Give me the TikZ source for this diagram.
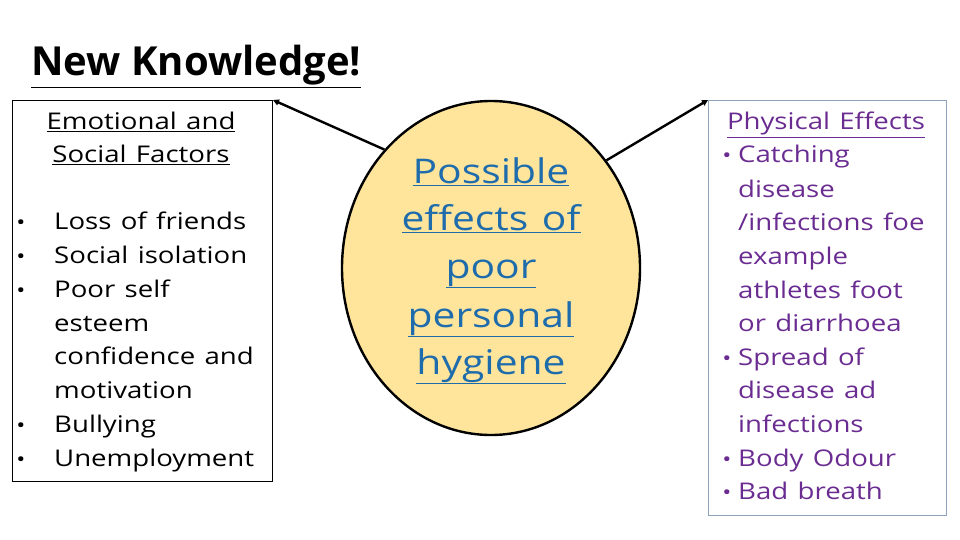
\documentclass[tikz,border=0pt]{standalone}
\usepackage{fontspec}
\setmainfont{Open Sans}[FakeStretch=1.2, WordSpace=1.3]
\newfontfamily\titlefont{Open Sans}
\usetikzlibrary{shapes.geometric,arrows.meta}
\definecolor{hygblue}{HTML}{1F6CAD}
\definecolor{hygpurple}{HTML}{6A2C91}
\definecolor{hygyellow}{HTML}{FEE59B}
\definecolor{boxgray}{HTML}{8EA2BA}
\tikzset{
  ltext/.style={anchor=base west, inner sep=0pt, font=\fontsize{23}{26}\selectfont},
  lhead/.style={anchor=base, inner sep=0pt, font=\fontsize{23}{26}\selectfont},
  rtext/.style={ltext, text=hygpurple},
  rhead/.style={lhead, text=hygpurple},
  bul/.style={anchor=base, inner sep=0pt, font=\fontsize{20}{26}\selectfont},
  ctext/.style={anchor=base, inner sep=0pt, font=\fontsize{34}{36}\selectfont, text=hygblue},
  conn/.style={line width=2.4pt, -{Triangle[length=6pt,width=6pt]}},
}
\begin{document}
\begin{tikzpicture}[x=1pt,y=-1pt]
\useasboundingbox (0,0) rectangle (960,540);
% title
\node[anchor=base west, inner sep=0pt, font=\titlefont\fontsize{40}{44}\selectfont\bfseries] (title) at (31,76) {\underline{New Knowledge!}};
% left box
\node[draw=black, line width=1pt, anchor=north west, minimum width=260pt, minimum height=381pt, inner sep=0pt] (left) at (12,100) {};
\node[lhead] (lh1) at (141,130) {\underline{Emotional and}};
\node[lhead] (lh2) at (141,163) {\underline{Social Factors}};
\foreach \t/\y [count=\i] in {Loss of friends/229, Social isolation/263, Poor self/297, esteem/331, confidence and/364, motivation/398, Bullying/432, Unemployment/466}
  \node[ltext] (l\i) at (54,\y) {\t};
\foreach \y [count=\i] in {229,263,297,432,466}
  \node[bul] (lb\i) at (21,\y) {•};
% circle
\node[ellipse, draw=black, line width=2.4pt, fill=hygyellow, minimum width=298pt, minimum height=334pt, inner sep=0pt] (circ) at (491,268) {};
\foreach \t/\y [count=\i] in {Possible/183, effects of/230, poor/278, personal/327, hygiene/374}
  \node[ctext] (c\i) at (491,\y) {\underline{\t}};
% right box
\node[draw=boxgray, line width=1pt, anchor=north west, minimum width=238pt, minimum height=415pt, inner sep=0pt] (right) at (708,100) {};
\node[rhead] (rh) at (826,130) {\underline{Physical Effects}};
\foreach \t/\y [count=\i] in {Catching/163, disease/197, {/infections foe}/230, example/264, athletes foot/298, or diarrhoea/331, Spread of/365, disease ad/398, infections/432, Body Odour/466, Bad breath/499}
  \node[rtext] (r\i) at (738,\y) {\t};
\foreach \y [count=\i] in {163,365,466,499}
  \node[bul, text=hygpurple] (rb\i) at (727,\y) {•};
% connectors
\draw[conn] (circ.132) -- (left.north east);
\draw[conn] (circ.43) -- (right.north west);
\end{tikzpicture}
\end{document}
